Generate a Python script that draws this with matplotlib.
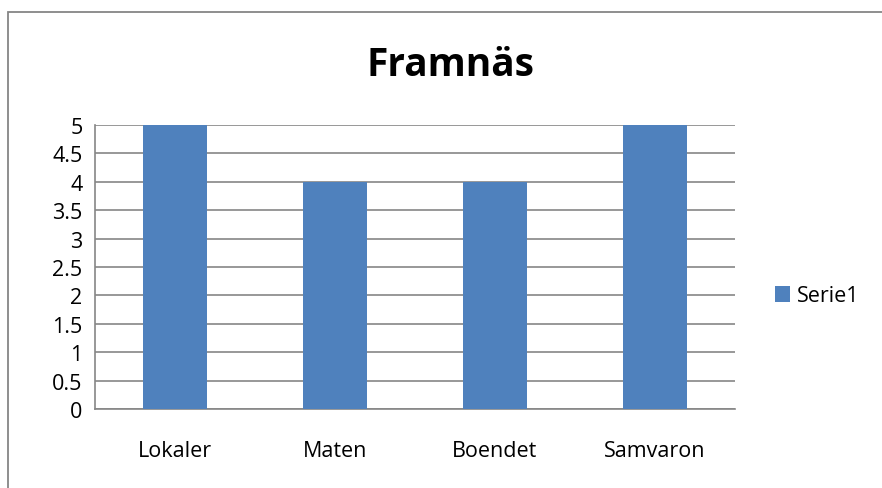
import matplotlib.pyplot as plt
from matplotlib.patches import Rectangle

categories = ["Lokaler", "Maten", "Boendet", "Samvaron"]
values = [5, 4, 4, 5]
yticks = [0, 0.5, 1, 1.5, 2, 2.5, 3, 3.5, 4, 4.5, 5]
ytick_labels = ["0", "0.5", "1", "1.5", "2", "2.5", "3", "3.5", "4", "4.5", "5"]
series_name = "Serie1"
title = "Framnäs"

plt.rcParams["font.family"] = ["Open Sans", "DejaVu Sans"]

W, H = 882, 489
fig = plt.figure(figsize=(W / 100, H / 100), dpi=100)

# outer chart border (right and bottom edges fall outside the picture)
fig.patches.append(Rectangle((8 / W, -0.5), 2, 1.5 - 13 / H, transform=fig.transFigure,
                             fill=False, edgecolor="#868686", linewidth=1.3))

ax = fig.add_axes([95 / W, 1 - 410 / H, 640 / W, 284 / H])
bars = ax.bar(range(len(categories)), values, width=0.4, color="#4F81BD",
              label=series_name, zorder=3)
ax.set_xlim(-0.5, len(categories) - 0.5)
ax.set_ylim(0, 5)
ax.set_yticks(yticks)
ax.set_yticklabels(ytick_labels, fontsize=15.5)
ax.set_xticks(range(len(categories)))
ax.set_xticklabels(categories, fontsize=15.5)
ax.tick_params(axis="y", length=0, pad=9)
ax.tick_params(axis="x", length=0, pad=22)
ax.grid(axis="y", color="#868686", linewidth=1.2, zorder=0)
for side in ["top", "right"]:
    ax.spines[side].set_visible(False)
for side in ["left", "bottom"]:
    ax.spines[side].set_color("#868686")
    ax.spines[side].set_linewidth(1.2)

fig.text(450 / W, 1 - 66 / H, title, ha="center", va="center",
         fontsize=28, fontweight="bold")

fig.legend(handles=[bars], labels=[series_name], loc="center left",
           bbox_to_anchor=(756 / W, 1 - 297 / H), frameon=False, fontsize=15.5,
           handlelength=0.7, handleheight=0.7, handletextpad=0.3)

fig.savefig("out.png", dpi=100)
